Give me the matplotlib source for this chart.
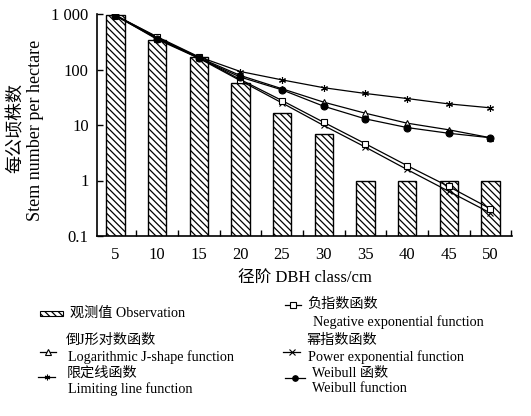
import matplotlib
matplotlib.use("Agg")
import matplotlib.pyplot as plt
from matplotlib.lines import Line2D
from matplotlib.patches import Rectangle

plt.rcParams['font.family'] = ['Liberation Serif', 'Noto Sans CJK SC']
plt.rcParams['hatch.linewidth'] = 0.9

dbh = [5, 10, 15, 20, 25, 30, 35, 40, 45, 50]
observed = [950, 345, 170, 58, 16.6, 6.9, 1, 1, 1, 1]
neg_exp = [950, 380, 165, 66, 27.6, 11.2, 4.6, 1.86, 0.78, 0.31]
power_exp = [950, 370, 160, 63, 25, 9.8, 4.0, 1.58, 0.64, 0.26]
limiting = [950, 390, 170, 92, 65, 47, 37, 30, 24, 20.4]
log_j = [930, 360, 165, 78, 45, 25.8, 16.3, 10.8, 8.2, 5.9]
weibull = [950, 350, 160, 73, 43, 21.8, 12.9, 9.0, 7.1, 5.9]
ytick_vals = [0.1, 1, 10, 100, 1000]
ytick_labels = ['0.1', '1', '10', '100', '1 000']

W, H = 531, 416
fig = plt.figure(figsize=(W / 100, H / 100), dpi=100)

def fx(px):
    return px / W

def fy(py):
    return 1 - py / H

ax = fig.add_axes([fx(97), fy(236), fx(512 - 97), (236 - 14) / H])
ax.bar(dbh, observed, width=2.2, color='white', edgecolor='black',
       linewidth=1.0, hatch='\\\\\\\\\\', zorder=2)

lw = 0.9
ms = 5
ax.plot(dbh, neg_exp, color='black', lw=lw, marker='s', ms=ms,
        mfc='white', mec='black', mew=0.8, zorder=4)
ax.plot(dbh, power_exp, color='black', lw=lw, marker='x', ms=ms,
        mec='black', mew=0.8, zorder=3)
ax.plot(dbh, limiting, color='black', lw=lw, marker=(6, 2, 0), ms=ms,
        mec='black', mew=0.8, zorder=3)
ax.plot(dbh, log_j, color='black', lw=lw, marker='^', ms=ms,
        mfc='white', mec='black', mew=0.8, zorder=3)
ax.plot(dbh, weibull, color='black', lw=lw, marker='o', ms=ms,
        mfc='black', mec='black', mew=0.8, zorder=4)

ax.set_yscale('log')
ax.set_ylim(0.1, 1000)
ax.set_xlim(2.8, 52.6)
ax.set_yticks(ytick_vals)
ax.set_yticklabels(ytick_labels)
ax.yaxis.set_minor_locator(matplotlib.ticker.NullLocator())
ax.set_xticks(dbh)
ax.set_xticklabels([str(v) for v in dbh])
ax.set_xticks([v + 2.5 for v in dbh], minor=True)
ax.tick_params(axis='x', which='major', length=0, pad=8, labelsize=12)
ax.tick_params(axis='x', which='minor', direction='in', length=4, width=1)
ax.tick_params(axis='y', which='major', direction='in', length=4, width=1,
               pad=6, labelsize=12)
for s in ['top', 'right']:
    ax.spines[s].set_visible(False)
for s in ['left', 'bottom']:
    ax.spines[s].set_linewidth(1.2)

fig.text(fx(305), fy(278), '径阶 DBH class/cm', ha='center', va='center',
         fontsize=12)
fig.text(fx(16), fy(128), '每公顷株数', rotation=90, ha='center', va='center',
         fontsize=13)
fig.text(fx(36), fy(130), 'Stem number per hectare', rotation=90,
         ha='center', va='center', fontsize=13)

# legend
fs = 10.2
def leg_line(x0, x1, y, marker, mfc='white', msz=4):
    fig.add_artist(Line2D([fx(x0), fx(x1)], [fy(y), fy(y)], color='black',
                          lw=0.9, transform=fig.transFigure))
    fig.add_artist(Line2D([fx((x0 + x1) / 2)], [fy(y)], marker=marker,
                          mfc=mfc, mec='black', ms=msz, mew=0.8,
                          transform=fig.transFigure, lw=0))

fig.add_artist(Rectangle((fx(40), fy(316)), fx(23), 5 / H, facecolor='white',
                         edgecolor='black', lw=0.8, hatch='\\\\\\\\\\',
                         transform=fig.transFigure))
fig.text(fx(70), fy(313), '观测值 Observation', va='center', fontsize=fs)

leg_line(285, 301, 305, 's')
fig.text(fx(307), fy(304), '负指数函数', va='center', fontsize=fs)
fig.text(fx(313), fy(322), 'Negative exponential function', va='center',
         fontsize=fs)

leg_line(40, 56, 352, '^')
fig.text(fx(66), fy(340), '倒J形对数函数', va='center', fontsize=fs)
fig.text(fx(68), fy(357), 'Logarithmic J-shape function', va='center',
         fontsize=fs)

leg_line(283, 300, 352, 'x', msz=4)
fig.text(fx(306), fy(340), '幂指数函数', va='center', fontsize=fs)
fig.text(fx(308), fy(357), 'Power exponential function', va='center',
         fontsize=fs)

leg_line(38, 55, 377, (6, 2, 0), msz=4)
fig.text(fx(67), fy(373), '限定线函数', va='center', fontsize=fs)
fig.text(fx(68), fy(389), 'Limiting line function', va='center',
         fontsize=fs)

leg_line(285, 305, 378, 'o', mfc='black', msz=4)
fig.text(fx(312), fy(373), 'Weibull 函数', va='center', fontsize=fs)
fig.text(fx(312), fy(389), 'Weibull function', va='center', fontsize=fs)

fig.savefig('out.png', dpi=100)
